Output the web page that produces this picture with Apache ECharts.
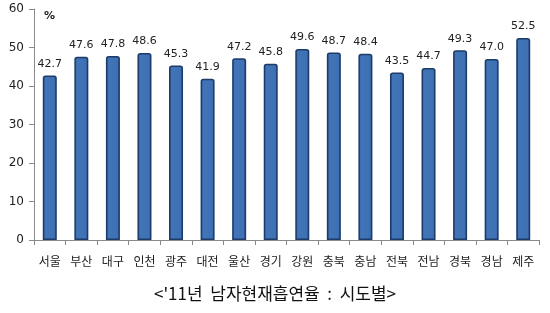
<!DOCTYPE html>
<html><head><meta charset="utf-8">
<script src="https://cdn.jsdelivr.net/npm/echarts@6/dist/echarts.min.js"></script>
<style>html,body{margin:0;padding:0;background:#fff}#c{width:550px;height:313px}</style>
</head><body><div id="c"></div>
<script>
const categories = ['서울','부산','대구','인천','광주','대전','울산','경기','강원','충북','충남','전북','전남','경북','경남','제주'];
const values = [42.7,47.6,47.8,48.6,45.3,41.9,47.2,45.8,49.6,48.7,48.4,43.5,44.7,49.3,47.0,52.5];
const yTicks = [0,10,20,30,40,50,60];
const unitLabel = '%';
const title = "<'11년  남자현재흡연율  :  시도별>";

const chart = echarts.init(document.getElementById('c'));
chart.setOption({
  animation:false,
  graphic:[
    {type:'text', left:44, top:11, style:{text:unitLabel, font:'bold 11px "DejaVu Sans"', fill:'#222'}},
    {type:'text', left:'center', top:285, style:{text:title, font:'17px "Noto Sans CJK KR"', fill:'#111'}}
  ],
  grid:{left:34, right:11, top:9, bottom:73, containLabel:false},
  xAxis:{type:'category', data:categories,
    axisLine:{lineStyle:{color:'#8a8a8a', width:1}},
    axisTick:{show:true, length:5, lineStyle:{color:'#8a8a8a'}},
    axisLabel:{color:'#222', fontSize:12, fontFamily:'"Noto Sans CJK KR"', margin:15}},
  yAxis:{type:'value', min:yTicks[0], max:yTicks[yTicks.length-1], interval:10,
    axisLine:{show:true, lineStyle:{color:'#8a8a8a'}},
    axisTick:{show:true, length:5, lineStyle:{color:'#8a8a8a'}},
    splitLine:{show:false},
    axisLabel:{color:'#222', fontSize:12, fontFamily:'"DejaVu Sans"', margin:10}},
  series:[{type:'bar', data:values, barWidth:14,
    itemStyle:{
      color:new echarts.graphic.LinearGradient(0,0,1,0,[
        {offset:0,color:'#2c5894'},{offset:0.18,color:'#4274b8'},
        {offset:0.82,color:'#3e70b4'},{offset:1,color:'#2a5390'}]),
      borderColor:'#1d3b68', borderWidth:1.5, borderRadius:[2,2,0,0]},
    label:{show:true, position:'top', distance:6, color:'#222', fontSize:11,
      fontFamily:'"DejaVu Sans"', formatter:p=>p.value.toFixed(1)}}]
});
</script></body></html>
